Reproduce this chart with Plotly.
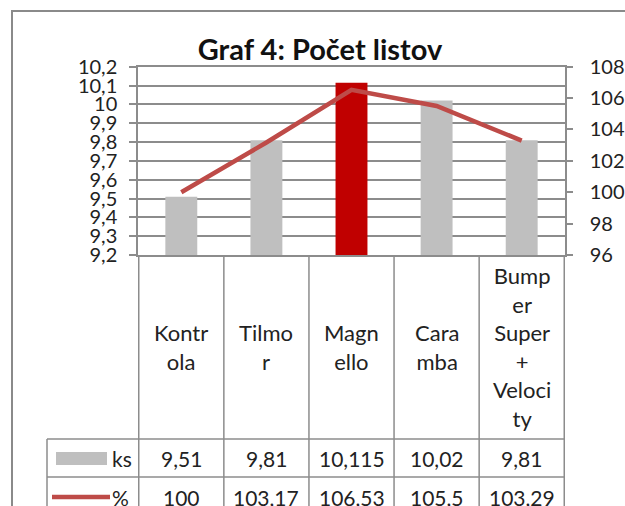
import plotly.graph_objects as go

W, H = 625, 506

# --- data ---
categories = ["Kontrola", "Tilmor", "Magnello", "Caramba", "Bumper Super + Velocity"]
category_labels = ["Kontr<br>ola", "Tilmo<br>r", "Magn<br>ello", "Cara<br>mba",
                   "Bump<br>er<br>Super<br>+<br>Veloci<br>ty"]
ks_values = [9.51, 9.81, 10.115, 10.02, 9.81]
pct_values = [100, 103.17, 106.53, 105.5, 103.29]
highlight = "Magnello"

FONT = "Lato, Calibri, sans-serif"
GRID = "#8c8c8c"
GREY = "#bfbfbf"
RED = "#c00000"
LINE = "#be4b48"
TXT = "#222"


def px(x):
    return x / W


def py(y):
    return 1 - y / H


def fmt(v):
    return f"{v:g}".replace(".", ",")


fig = go.Figure()

fig.add_trace(go.Bar(
    x=categories,
    y=ks_values,
    marker=dict(color=[RED if c == highlight else GREY for c in categories], line_width=0),
    name="ks",
))
fig.add_trace(go.Scatter(
    x=categories,
    y=pct_values,
    yaxis="y2",
    mode="lines",
    line=dict(color=LINE, width=4.5),
    name="%",
))

# --- table under the plot area ---
plot_left, plot_right, plot_bottom = 138, 565, 255
table_left, row1_top, row2_top = 47, 439, 477

shapes = []
# chart frame
shapes.append(dict(type="rect", xref="paper", yref="paper",
                   x0=px(12), x1=px(640), y0=py(530), y1=py(11),
                   line=dict(color="#8a8a8a", width=2), layer="below"))
# vertical cell borders
for i in range(len(categories) + 1):
    shapes.append(dict(type="line", xref="x", yref="paper",
                       x0=i - 0.5, x1=i - 0.5, y0=py(H + 5), y1=py(plot_bottom),
                       line=dict(color=GRID, width=1.5)))
shapes.append(dict(type="line", xref="paper", yref="paper",
                   x0=px(table_left), x1=px(table_left), y0=py(H + 5), y1=py(row1_top),
                   line=dict(color=GRID, width=1.5)))
for yy in (row1_top, row2_top):
    shapes.append(dict(type="line", xref="paper", yref="paper",
                       x0=px(table_left), x1=px(plot_right), y0=py(yy), y1=py(yy),
                       line=dict(color=GRID, width=1.5)))
# legend keys inside the table
shapes.append(dict(type="rect", xref="paper", yref="paper",
                   x0=px(56), x1=px(107), y0=py(465), y1=py(452),
                   fillcolor=GREY, line_width=0))
shapes.append(dict(type="line", xref="paper", yref="paper",
                   x0=px(52), x1=px(110), y0=py(497), y1=py(497),
                   line=dict(color=LINE, width=4.5)))

annotations = []
for cat, lab in zip(categories, category_labels):
    annotations.append(dict(x=cat, xref="x", y=py(347), yref="paper", text=lab,
                            showarrow=False, xanchor="center", yanchor="middle",
                            font=dict(family=FONT, size=22, color=TXT)))
for cat, k, p in zip(categories, ks_values, pct_values):
    for yy, val in ((458, k), (497, p)):
        annotations.append(dict(x=cat, xref="x", y=py(yy), yref="paper", text=fmt(val),
                                showarrow=False, xanchor="center", yanchor="middle",
                                font=dict(family=FONT, size=21, color=TXT)))
for yy, xx, name in ((458, 134, "ks"), (497, 131, "%")):
    annotations.append(dict(x=px(xx), y=py(yy), xref="paper", yref="paper", text=name,
                            showarrow=False, xanchor="right", yanchor="middle",
                            font=dict(family=FONT, size=21, color=TXT)))

fig.update_layout(
    width=W, height=H,
    margin=dict(l=0, r=0, t=0, b=0),
    paper_bgcolor="white", plot_bgcolor="white",
    separators=", ",
    showlegend=False,
    bargap=0.625,
    font=dict(family=FONT, size=20, color=TXT),
    title=dict(text="<b>Graf 4: Počet listov</b>", x=px(320), y=py(50),
               xanchor="center", yanchor="middle",
               font=dict(family=FONT, size=29, color="#111")),
    xaxis=dict(domain=[px(plot_left), px(plot_right)], showticklabels=False,
               showgrid=False, zeroline=False, showline=True, mirror=True,
               linecolor=GRID, linewidth=1.5, ticks="", automargin=False),
    yaxis=dict(domain=[py(plot_bottom), py(66.7)], range=[9.2, 10.2], dtick=0.1,
               tick0=9.2, showgrid=True, gridcolor=GRID, gridwidth=1.5,
               zeroline=False, showline=True, linecolor=GRID, linewidth=1.5,
               ticks="outside", ticklen=7, tickcolor=GRID, tickwidth=1.5,
               ticklabelstandoff=8, automargin=False,
               tickfont=dict(family=FONT, size=20, color=TXT)),
    yaxis2=dict(overlaying="y", side="right", range=[96, 108], dtick=2, tick0=96,
                showgrid=False, zeroline=False, showline=True, linecolor=GRID,
                linewidth=1.5, ticks="outside", ticklen=6, tickcolor=GRID,
                tickwidth=1.5, ticklabelstandoff=13, automargin=False,
                tickfont=dict(family=FONT, size=20, color=TXT)),
    shapes=shapes,
    annotations=annotations,
)

# drop the default body margin so the 625x506 figure fills the window exactly
fig.write_html("out.html",
               config={"displayModeBar": False},
               post_script="document.body.style.margin='0';"
                           "document.body.style.overflow='hidden';")
